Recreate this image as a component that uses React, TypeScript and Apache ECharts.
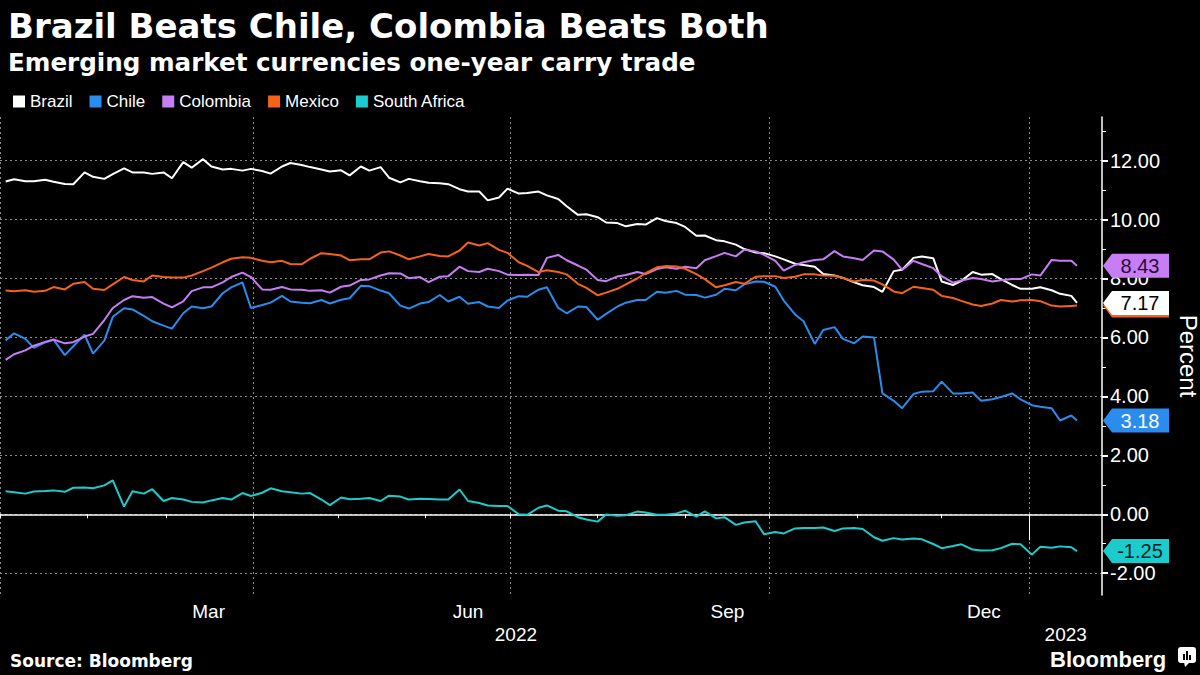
import React, { useEffect, useRef } from 'react';
import * as echarts from 'echarts';

const dates = [
  '2022-01-03','2022-01-06','2022-01-10','2022-01-13','2022-01-17','2022-01-20','2022-01-24','2022-01-27','2022-01-31',
  '2022-02-03','2022-02-07','2022-02-10','2022-02-14','2022-02-17','2022-02-21','2022-02-24','2022-02-28',
  '2022-03-03','2022-03-07','2022-03-10','2022-03-14','2022-03-17','2022-03-21','2022-03-24','2022-03-28','2022-03-31',
  '2022-04-04','2022-04-07','2022-04-11','2022-04-14','2022-04-18','2022-04-21','2022-04-25','2022-04-28',
  '2022-05-02','2022-05-05','2022-05-09','2022-05-12','2022-05-16','2022-05-19','2022-05-23','2022-05-26','2022-05-30',
  '2022-06-02','2022-06-06','2022-06-09','2022-06-13','2022-06-16','2022-06-20','2022-06-23','2022-06-27','2022-06-30',
  '2022-07-04','2022-07-07','2022-07-11','2022-07-14','2022-07-18','2022-07-21','2022-07-25','2022-07-28',
  '2022-08-01','2022-08-04','2022-08-08','2022-08-11','2022-08-15','2022-08-18','2022-08-22','2022-08-25','2022-08-29',
  '2022-09-01','2022-09-05','2022-09-08','2022-09-12','2022-09-15','2022-09-19','2022-09-22','2022-09-26','2022-09-29',
  '2022-10-03','2022-10-06','2022-10-10','2022-10-13','2022-10-17','2022-10-20','2022-10-24','2022-10-27','2022-10-31',
  '2022-11-03','2022-11-07','2022-11-10','2022-11-14','2022-11-17','2022-11-21','2022-11-24','2022-11-28',
  '2022-12-01','2022-12-05','2022-12-08','2022-12-12','2022-12-15','2022-12-19','2022-12-22','2022-12-26','2022-12-29',
  '2023-01-02','2023-01-05','2023-01-09','2023-01-12','2023-01-16','2023-01-18',
];

const brazil = [
  11.29, 11.37, 11.30, 11.30, 11.35, 11.28, 11.21, 11.20, 11.60, 11.45,
  11.38, 11.54, 11.74, 11.60, 11.60, 11.55, 11.60, 11.40, 11.95, 11.76,
  12.05, 11.80, 11.70, 11.72, 11.66, 11.72, 11.65, 11.56, 11.80, 11.92,
  11.85, 11.78, 11.70, 11.63, 11.67, 11.50, 11.80, 11.66, 11.78, 11.42,
  11.26, 11.38, 11.30, 11.25, 11.23, 11.20, 11.03, 10.95, 10.95, 10.65,
  10.75, 11.05, 10.88, 10.90, 10.95, 10.82, 10.70, 10.45, 10.16, 10.18,
  10.08, 9.90, 9.88, 9.77, 9.85, 9.83, 10.05, 9.95, 9.88, 9.75,
  9.45, 9.46, 9.30, 9.26, 9.15, 9.00, 8.88, 8.86, 8.75, 8.65,
  8.50, 8.46, 8.40, 8.15, 8.10, 8.02, 7.87, 7.77, 7.71, 7.55,
  8.25, 8.30, 8.70, 8.75, 8.69, 7.90, 7.78, 7.92, 8.22, 8.13,
  8.15, 7.98, 7.78, 7.65, 7.65, 7.70, 7.60, 7.48, 7.41, 7.17,
];

const chile = [
  5.90, 6.14, 5.95, 5.65, 5.83, 5.92, 5.40, 5.70, 6.09, 5.45,
  5.89, 6.70, 6.99, 6.95, 6.73, 6.55, 6.40, 6.30, 6.82, 7.05,
  6.99, 7.05, 7.50, 7.70, 7.87, 7.00, 7.10, 7.18, 7.41, 7.22,
  7.18, 7.16, 7.27, 7.15, 7.28, 7.33, 7.75, 7.74, 7.59, 7.50,
  7.08, 6.98, 7.15, 7.20, 7.44, 7.22, 7.38, 7.14, 7.20, 7.05,
  7.00, 7.25, 7.40, 7.38, 7.62, 7.70, 7.00, 6.82, 7.05, 7.03,
  6.60, 6.80, 7.05, 7.18, 7.27, 7.27, 7.55, 7.52, 7.58, 7.45,
  7.44, 7.35, 7.45, 7.65, 7.60, 7.80, 7.90, 7.89, 7.72, 7.25,
  6.78, 6.55, 5.78, 6.25, 6.35, 5.95, 5.80, 6.03, 6.00, 4.10,
  3.85, 3.60, 4.08, 4.16, 4.17, 4.50, 4.10, 4.10, 4.13, 3.85,
  3.90, 3.98, 4.10, 3.90, 3.70, 3.65, 3.60, 3.18, 3.35, 3.18,
];

const colombia = [
  5.24, 5.43, 5.56, 5.72, 5.85, 5.93, 5.80, 5.84, 6.03, 6.12,
  6.59, 7.00, 7.27, 7.40, 7.35, 7.37, 7.15, 7.02, 7.22, 7.57,
  7.70, 7.70, 7.87, 8.05, 8.20, 8.05, 7.63, 7.62, 7.71, 7.63,
  7.62, 7.58, 7.60, 7.52, 7.72, 7.76, 7.95, 7.97, 8.10, 8.18,
  8.17, 8.01, 8.05, 7.88, 8.06, 8.08, 8.40, 8.25, 8.22, 8.33,
  8.25, 8.13, 8.12, 8.13, 8.12, 8.70, 8.80, 8.62, 8.44, 8.30,
  7.95, 7.91, 8.07, 8.12, 8.22, 8.15, 8.32, 8.38, 8.33, 8.40,
  8.35, 8.62, 8.76, 8.87, 8.75, 8.98, 8.92, 8.80, 8.60, 8.27,
  8.46, 8.55, 8.63, 8.65, 8.93, 8.75, 8.69, 8.63, 8.95, 8.92,
  8.64, 8.29, 8.60, 8.49, 8.35, 8.08, 7.86, 7.93, 8.02, 7.98,
  7.90, 7.94, 7.98, 7.98, 8.14, 8.10, 8.63, 8.60, 8.60, 8.43,
];

const mexico = [
  7.59, 7.57, 7.60, 7.55, 7.58, 7.71, 7.63, 7.82, 7.88, 7.65,
  7.61, 7.80, 8.05, 7.95, 7.90, 8.10, 8.05, 8.03, 8.03, 8.10,
  8.25, 8.37, 8.55, 8.67, 8.72, 8.70, 8.60, 8.55, 8.60, 8.49,
  8.48, 8.67, 8.86, 8.83, 8.78, 8.62, 8.65, 8.65, 8.88, 8.92,
  8.78, 8.65, 8.75, 8.83, 8.76, 8.75, 8.95, 9.22, 9.12, 9.20,
  8.97, 8.87, 8.55, 8.43, 8.22, 8.28, 8.22, 8.14, 7.82, 7.68,
  7.43, 7.52, 7.65, 7.80, 8.00, 8.18, 8.38, 8.42, 8.41, 8.33,
  8.15, 7.98, 7.70, 7.77, 7.88, 7.82, 8.06, 8.08, 8.08, 8.02,
  8.06, 8.14, 8.14, 8.10, 8.09, 8.02, 7.90, 7.95, 7.93, 7.80,
  7.56, 7.50, 7.72, 7.68, 7.62, 7.41, 7.34, 7.24, 7.12, 7.07,
  7.15, 7.27, 7.22, 7.26, 7.27, 7.23, 7.08, 7.05, 7.07, 7.08,
];

const southAfrica = [
  0.78, 0.75, 0.70, 0.77, 0.79, 0.81, 0.76, 0.90, 0.91, 0.88,
  0.98, 1.15, 0.26, 0.78, 0.70, 0.85, 0.45, 0.55, 0.50, 0.42,
  0.40, 0.47, 0.55, 0.50, 0.72, 0.62, 0.73, 0.88, 0.78, 0.75,
  0.70, 0.72, 0.50, 0.31, 0.57, 0.51, 0.53, 0.55, 0.45, 0.63,
  0.60, 0.50, 0.53, 0.52, 0.50, 0.50, 0.84, 0.45, 0.38, 0.30,
  0.28, 0.28, 0.00, -0.02, 0.22, 0.30, 0.12, 0.10, -0.10, -0.18,
  -0.25, -0.01, -0.05, -0.03, 0.09, 0.06, -0.02, -0.02, 0.03, 0.12,
  -0.08, 0.10, -0.14, -0.10, -0.36, -0.28, -0.24, -0.68, -0.60, -0.65,
  -0.48, -0.47, -0.47, -0.45, -0.57, -0.48, -0.47, -0.50, -0.78, -0.90,
  -0.81, -0.86, -0.82, -0.85, -1.01, -1.15, -1.08, -1.02, -1.20, -1.23,
  -1.22, -1.15, -1.00, -1.02, -1.37, -1.10, -1.14, -1.09, -1.12, -1.25,
];

const seriesNames = ['Brazil', 'Chile', 'Colombia', 'Mexico', 'South Africa'];
const seriesValues = [brazil, chile, colombia, mexico, southAfrica];
const seriesColors = ['#ffffff', '#2a8cec', '#c77ef4', '#f5621a', '#1ccccc'];
const badgeTextColors = ['#000000', '#ffffff', '#2a0a3a', '#000000', '#002222'];
// Mexico's end badge sits under Brazil's in the reference; its number is not visible there
const badgeTextShown = [true, true, true, false, true];

const yTicks = [-2, 0, 2, 4, 6, 8, 10, 12];
const yMinorTicks = [-1, 1, 3, 5, 7, 9, 11, 13];
const monthStarts = [
  '2022-01-01','2022-02-01','2022-03-01','2022-04-01','2022-05-01','2022-06-01','2022-07-01',
  '2022-08-01','2022-09-01','2022-10-01','2022-11-01','2022-12-01','2023-01-01',
];
const quarterStarts = ['2022-01-01', '2022-04-01', '2022-07-01', '2022-10-01', '2023-01-01'];
const monthLabelDates = ['2022-03-16', '2022-06-16', '2022-09-16', '2022-12-16'];
const yearLabelDates = ['2022-07-03', '2023-01-14'];
const yearBreaks = ['2023-01-01'];
const monthNames = ['Jan','Feb','Mar','Apr','May','Jun','Jul','Aug','Sep','Oct','Nov','Dec'];

const toTs = (s: string, h = 0) => {
  const [y, m, d] = s.split('-').map(Number);
  return new Date(y, m - 1, d, h).getTime();
};

const X_MIN = toTs('2022-01-01');
const X_MAX = toTs('2023-01-26', 21);
const Y_MIN = -2.74;
const Y_MAX = 13.48;

const badgePath = 'path://M0,12L9,0L66,0L66,24L9,24Z';
const FONT = 'Liberation Sans, Arial, sans-serif';

export default function App() {
  const ref = useRef<HTMLDivElement>(null);

  useEffect(() => {
    document.body.style.margin = '0';
    document.body.style.background = '#000';
    if (!ref.current) return;
    const chart = echarts.init(ref.current, undefined, { renderer: 'svg' });

    const series = seriesNames.map((name, k) => {
      const vals = seriesValues[k];
      const last = vals.length - 1;
      return {
        name,
        type: 'line',
        xAxisIndex: 0,
        yAxisIndex: 0,
        showSymbol: false,
        symbol: 'none',
        data: dates.map((d, i) => [toTs(d), vals[i]]),
        lineStyle: { color: seriesColors[k], width: 2 },
        itemStyle: { color: seriesColors[k] },
        markPoint: {
          z: k === 0 ? 8 : 6,
          symbol: badgePath,
          symbolSize: [66, 24],
          symbolKeepAspect: false,
          symbolOffset: [59, 0],
          itemStyle: { color: seriesColors[k] },
          label: {
            show: badgeTextShown[k],
            position: 'inside',
            offset: [4, 0],
            color: badgeTextColors[k],
            fontSize: 20,
            fontFamily: FONT,
            formatter: (p: any) => Number(p.value).toFixed(2),
          },
          data: [{ coord: [toTs(dates[last]), vals[last]], value: vals[last] }],
        },
      };
    });

    const option: any = {
      animation: false,
      backgroundColor: '#000000',
      textStyle: { fontFamily: FONT },
      title: [
        {
          text: 'Brazil Beats Chile, Colombia Beats Both',
          left: 3,
          top: 4,
          textStyle: { color: '#ffffff', fontFamily: 'DejaVu Sans', fontWeight: 'bold', fontSize: 34 },
        },
        {
          text: 'Emerging market currencies one-year carry trade',
          left: 3,
          top: 45,
          textStyle: { color: '#ffffff', fontFamily: 'DejaVu Sans', fontWeight: 'bold', fontSize: 24.6 },
        },
        {
          text: 'Source: Bloomberg',
          left: 5,
          top: 647,
          textStyle: { color: '#ffffff', fontFamily: 'DejaVu Sans', fontWeight: 'bold', fontSize: 17 },
        },
      ],
      legend: {
        data: seriesNames,
        left: 8,
        top: 88,
        icon: 'rect',
        itemWidth: 12,
        itemHeight: 12,
        itemGap: 17,
        textStyle: { color: '#ffffff', fontSize: 17, fontFamily: FONT },
      },
      grid: { left: 0, right: 98, top: 117, bottom: 80, containLabel: false, outerBoundsMode: 'none' },
      xAxis: [
        {
          type: 'value',
          min: X_MIN,
          max: X_MAX,
          position: 'bottom',
          axisLine: { show: true, lineStyle: { color: '#ffffff', width: 1.5 } },
          axisTick: {
            show: true,
            customValues: monthStarts.map((d) => toTs(d)),
            length: 4,
            lineStyle: { color: '#ffffff', width: 1 },
          },
          axisLabel: {
            show: true,
            customValues: monthLabelDates.map((d) => toTs(d)),
            formatter: (v: number) => monthNames[new Date(v).getMonth()],
            color: '#ffffff',
            fontSize: 19,
            margin: 7,
            hideOverlap: false,
          },
          splitLine: { show: false },
        },
        {
          type: 'value',
          min: X_MIN,
          max: X_MAX,
          position: 'bottom',
          offset: 26,
          axisLine: { show: false },
          axisTick: {
            show: true,
            customValues: yearBreaks.map((d) => toTs(d)),
            length: 26,
            lineStyle: { color: '#ffffff', width: 1 },
          },
          axisLabel: {
            show: true,
            customValues: yearLabelDates.map((d) => toTs(d)),
            formatter: (v: number) => String(new Date(v).getFullYear()),
            color: '#ffffff',
            fontSize: 19,
            margin: 4,
          },
          splitLine: { show: false },
        },
        {
          type: 'value',
          min: X_MIN,
          max: X_MAX,
          position: 'bottom',
          axisLine: { show: false },
          axisTick: { show: false, customValues: quarterStarts.map((d) => toTs(d)) },
          axisLabel: { show: false },
          splitLine: { show: true, lineStyle: { color: '#8a8a8a', type: [2, 3], width: 1 } },
        },
      ],
      yAxis: [
        {
          type: 'value',
          position: 'right',
          min: Y_MIN,
          max: Y_MAX,
          name: 'Percent',
          nameLocation: 'middle',
          nameRotate: -90,
          nameGap: 74,
          nameTextStyle: { color: '#ffffff', fontSize: 24, fontFamily: FONT },
          axisLine: { show: true, lineStyle: { color: '#ffffff', width: 1.5 } },
          axisTick: {
            show: true,
            customValues: yTicks,
            length: 6,
            lineStyle: { color: '#ffffff', width: 2 },
          },
          axisLabel: {
            show: true,
            customValues: yTicks,
            formatter: (v: number) => v.toFixed(2),
            color: '#ffffff',
            fontSize: 20,
            margin: 8,
          },
          splitLine: { show: true, lineStyle: { color: '#8a8a8a', type: [2, 3], width: 1 } },
        },
        {
          type: 'value',
          position: 'right',
          min: Y_MIN,
          max: Y_MAX,
          axisLine: { show: false },
          axisTick: {
            show: true,
            customValues: yMinorTicks,
            length: 4,
            lineStyle: { color: '#ffffff', width: 1 },
          },
          axisLabel: { show: false },
          splitLine: { show: false },
        },
      ],
      graphic: [
        {
          type: 'text',
          left: 1050,
          top: 648,
          style: { text: 'Bloomberg', fill: '#ffffff', font: 'bold 22px "Liberation Sans", Arial, sans-serif' },
        },
        {
          type: 'group',
          left: 1178,
          top: 647,
          children: [
            { type: 'rect', shape: { x: 0, y: 0, width: 18, height: 16, r: 3 }, style: { fill: '#ffffff' } },
            { type: 'polygon', shape: { points: [[6, 15], [12, 15], [7, 20]] }, style: { fill: '#ffffff' } },
            { type: 'rect', shape: { x: 5, y: 7, width: 2, height: 6 }, style: { fill: '#000000' } },
            { type: 'rect', shape: { x: 8, y: 4, width: 2, height: 9 }, style: { fill: '#000000' } },
            { type: 'rect', shape: { x: 11, y: 8, width: 2, height: 5 }, style: { fill: '#000000' } },
          ],
        },
      ],
      series,
    };

    chart.setOption(option);
    return () => chart.dispose();
  }, []);

  return <div ref={ref} style={{ width: 1200, height: 675, background: '#000' }} />;
}
